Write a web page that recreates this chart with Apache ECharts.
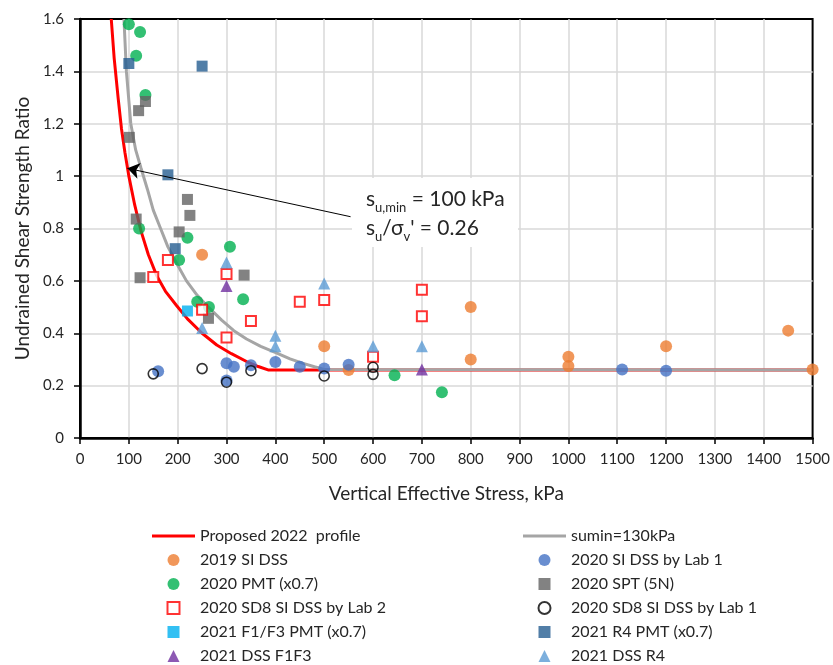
<!DOCTYPE html>
<html>
<head>
<meta charset="utf-8">
<script src="https://cdn.jsdelivr.net/npm/echarts@6/dist/echarts.min.js"></script>
<style>
    html, body { margin: 0; padding: 0; background: #fff; }
    #chart { width: 833px; height: 665px; }
</style>
</head>
<body>
<div id="chart"></div>
<script>
// axis ranges [min, max, step]
const xRange = [0, 1500, 100];
const yRange = [0, 1.6, 0.2];

// design lines
const proposed2022 = [
    [64, 1.6], [70, 1.45], [78, 1.3], [85, 1.18], [92, 1.09], [100, 1.0], [112, 0.89],
    [125, 0.79], [140, 0.70], [157, 0.62], [175, 0.56], [198, 0.505], [220, 0.455],
    [250, 0.40], [280, 0.355], [310, 0.322], [341, 0.292], [365, 0.273], [385, 0.26],
    [1500, 0.26]
];
const sumin130 = [
    [90, 1.6], [95, 1.4], [104, 1.2], [114, 1.1], [125, 1.03], [138, 0.95], [150, 0.87],
    [165, 0.8], [180, 0.73], [200, 0.66], [218, 0.6], [240, 0.545], [260, 0.505],
    [290, 0.45], [315, 0.41], [341, 0.378], [370, 0.35], [402, 0.325], [430, 0.302],
    [457, 0.285], [480, 0.272], [500, 0.262], [1500, 0.26]
];

// test data [stress kPa, ratio]
const dss2019 = [
    [250, 0.70], [500, 0.35], [550, 0.26], [800, 0.50], [800, 0.30], [1000, 0.31],
    [1000, 0.275], [1200, 0.35], [1450, 0.41], [1500, 0.262]
];
const dss2020Lab1 = [
    [160, 0.255], [300, 0.285], [315, 0.272], [300, 0.22], [350, 0.278], [400, 0.29],
    [450, 0.272], [500, 0.265], [550, 0.28], [1110, 0.262], [1200, 0.257]
];
const pmt2020 = [
    [100, 1.58], [123, 1.55], [115, 1.46], [134, 1.31], [121, 0.80], [220, 0.765],
    [203, 0.68], [307, 0.73], [334, 0.53], [240, 0.52], [264, 0.50], [644, 0.24], [741, 0.175]
];
const spt2020 = [
    [134, 1.285], [120, 1.25], [101, 1.148], [220, 0.911], [225, 0.85], [115, 0.836],
    [203, 0.787], [123, 0.612], [336, 0.622], [263, 0.457]
];
const sd8Lab2 = [
    [180, 0.68], [150, 0.615], [300, 0.626], [250, 0.49], [350, 0.447], [300, 0.384],
    [450, 0.52], [500, 0.527], [600, 0.31], [700, 0.566], [700, 0.465]
];
const sd8Lab1 = [
    [150, 0.245], [250, 0.265], [300, 0.213], [350, 0.257], [500, 0.237], [600, 0.27], [600, 0.243]
];
const pmtF1F3 = [[220, 0.485]];
const pmtR4 = [[100, 1.43], [250, 1.42], [180, 1.005], [195, 0.723]];
const dssF1F3 = [[300, 0.58], [700, 0.262]];
const dssR4 = [[300, 0.67], [250, 0.42], [400, 0.39], [400, 0.35], [500, 0.59], [600, 0.35], [700, 0.35]];

// annotation arrow, data units
const arrowFrom = [554, 0.845];
const arrowTo = [97, 1.03];

const font = "Lato";
const textColor = "#262626";

// legend icons (keep aspect inside the 43x12 legend box)
const icons = {
    line: "path://M0,0H43V3H0Z",
    rect: "path://M0,0H10V10H0Z",
    triangle: "path://M5,0L10,10H0Z",
    circle: "circle"
};

function lineSeries(name, data, color, extra={}) {
    return Object.assign({
        name,
        type: "line",
        data,
        symbol: "none",
        lineStyle: { color, width: 3 },
        itemStyle: { color },
        z: 2
    }, extra);
}

function scatterSeries(name, data, symbol, size, itemStyle) {
    return {
        name,
        type: "scatter",
        data,
        symbol,
        symbolSize: size,
        itemStyle,
        z: 3
    };
}

function legend(left, items) {
    return {
        left,
        top: 524,
        height: 160,
        orient: "vertical",
        padding: 0,
        itemWidth: 43,
        itemHeight: 12,
        itemGap: 0,
        symbolKeepAspect: true,
        textStyle: { fontFamily: font, fontSize: 16, color: textColor, lineHeight: 24 },
        data: items
    };
}

function renderChart(renderTo) {
    const series = [
        lineSeries("Proposed 2022  profile", proposed2022, "#FF0000", {
            markLine: {
                silent: true,
                symbol: ["none", "arrow"],
                symbolSize: 12,
                label: { show: false },
                lineStyle: { color: "#000", width: 1, type: "solid" },
                data: [[{ coord: arrowFrom }, { coord: arrowTo }]]
            }
        }),
        lineSeries("sumin=130kPa", sumin130, "#A5A5A5"),
        scatterSeries("2019 SI DSS", dss2019, "circle", 12, { color: "#ED7D31" }),
        scatterSeries("2020 SI DSS by Lab 1", dss2020Lab1, "circle", 12, { color: "#4472C4" }),
        scatterSeries("2020 PMT (x0.7)", pmt2020, "circle", 12, { color: "#00B050" }),
        scatterSeries("2020 SPT (5N)", spt2020, "rect", 11, { color: "#636363" }),
        scatterSeries("2020 SD8 SI DSS by Lab 2", sd8Lab2, "rect", 10,
            { color: "#fff", borderColor: "#FF0000", borderWidth: 2 }),
        scatterSeries("2020 SD8 SI DSS by Lab 1", sd8Lab1, "circle", 10,
            { color: "rgba(0,0,0,0)", borderColor: "#000", borderWidth: 1.6 }),
        scatterSeries("2021 F1/F3 PMT (x0.7)", pmtF1F3, "rect", 11, { color: "#00B0F0" }),
        scatterSeries("2021 R4 PMT (x0.7)", pmtR4, "rect", 11, { color: "#255E91" }),
        scatterSeries("2021 DSS F1F3", dssF1F3, "triangle", 12, { color: "#7030A0" }),
        scatterSeries("2021 DSS R4", dssR4, "triangle", 12, { color: "#5B9BD5" })
    ];

    const items = series.map(s => ({
        name: s.name,
        icon: s.type === "line" ? icons.line : icons[s.symbol]
    }));
    const leftItems = items.filter((n, i) => i % 2 === 0);
    const rightItems = items.filter((n, i) => i % 2 === 1);

    const axisCommon = {
        type: "value",
        axisLine: { show: true, lineStyle: { color: "#000", width: 2.5 } },
        axisTick: { show: true, length: 6, lineStyle: { color: "#000", width: 1.5 } },
        splitLine: { show: true, showMinLine: false, showMaxLine: false, lineStyle: { color: "#D9D9D9", width: 1.5 } },
        nameLocation: "middle",
        nameTextStyle: { fontFamily: font, fontSize: 19, color: textColor }
    };

    const option = {
        animation: false,
        backgroundColor: "#fff",
        textStyle: { fontFamily: font },
        grid: {
            left: 80,
            right: 20,
            top: 19,
            bottom: 227,
            show: true,
            borderColor: "#000",
            borderWidth: 2
        },
        xAxis: Object.assign({}, axisCommon, {
            min: xRange[0],
            max: xRange[1],
            interval: xRange[2],
            name: "Vertical Effective Stress, kPa",
            nameGap: 46,
            axisLabel: { fontFamily: font, fontSize: 15, color: textColor, margin: 14, formatter: v => String(v) }
        }),
        yAxis: Object.assign({}, axisCommon, {
            min: yRange[0],
            max: yRange[1],
            interval: yRange[2],
            name: "Undrained Shear Strength Ratio",
            nameGap: 46,
            axisLabel: { fontFamily: font, fontSize: 15, color: textColor, margin: 16 }
        }),
        legend: [ legend(152, leftItems), legend(523, rightItems) ],
        graphic: [
            {
                type: "rect",
                z: 100,
                shape: { x: 352, y: 178, width: 166, height: 69 },
                style: { fill: "#fff" }
            },
            {
                type: "text",
                z: 101,
                x: 366,
                y: 185,
                style: {
                    text: "{m|s}{sub|u,min}{m| = 100 kPa}\n{m|s}{sub|u}{m|/σ}{sub|v}{m|' = 0.26}",
                    rich: {
                        m: { fontFamily: font, fontSize: 21, lineHeight: 29, fill: textColor },
                        sub: { fontFamily: font, fontSize: 13, lineHeight: 12, verticalAlign: "bottom", fill: textColor }
                    }
                }
            }
        ],
        series
    };

    const chart = echarts.init(renderTo);
    chart.setOption(option);
}

renderChart(document.getElementById("chart"));
</script>
</body>
</html>
